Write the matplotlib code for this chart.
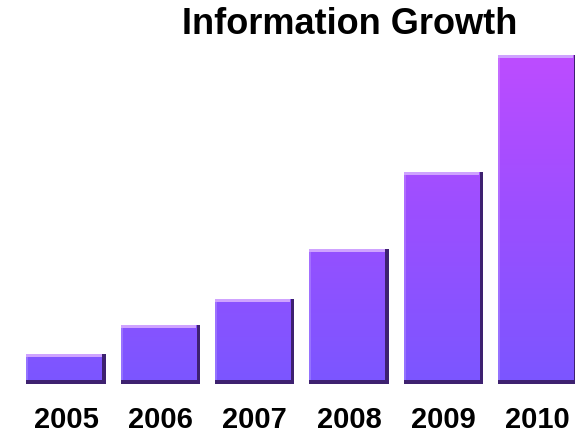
import matplotlib
matplotlib.use("Agg")
import matplotlib.pyplot as plt
import numpy as np
from matplotlib.colors import LinearSegmentedColormap

years = ["2005", "2006", "2007", "2008", "2009", "2010"]
values = [30, 59, 85, 135, 212, 329]

fig = plt.figure(figsize=(5.75, 4.34), dpi=100)
ax = fig.add_axes([0, 50/434, 1, 384/434])
xl = (-66/94.3, (575-66)/94.3)
ax.set_xlim(*xl)
ax.set_ylim(0, 384)
ax.axis("off")

x = np.arange(len(years))
width = 0.84
sx = 4/94.3   # shadow thickness in x data units
sy = 4        # shadow thickness in y data units

cmap = LinearSegmentedColormap.from_list("g", ["#7b56ff", "#9a4fff", "#bd4cff"])
grad = np.linspace(0, 1, 256).reshape(-1, 1)
top = max(values)

# shadow bars
ax.bar(x, values, width=width, color="#3e2170", edgecolor="none", zorder=1)
# front bars
fronts = ax.bar(x - sx/2, [v - sy for v in values], width=width - sx, bottom=sy,
                color="none", edgecolor="none", zorder=2)
for rect, v in zip(fronts, values):
    im = ax.imshow(grad, extent=[-1, 6, 0, top], origin="lower", cmap=cmap,
                   aspect="auto", zorder=2)
    im.set_clip_path(rect)
# top highlight
ax.bar(x - sx/2, [3]*len(values), width=width - sx, bottom=[v - 3 for v in values],
       color="#cfa3ff", edgecolor="none", zorder=3)
# left light edge
ax.bar(x - width/2 + 1/94, [v - sy - 3 for v in values], width=2/94, bottom=sy,
       color="white", alpha=0.18, edgecolor="none", zorder=3)

ax.set_xlim(*xl)
ax.set_ylim(0, 384)

for xi, lab in zip(x, years):
    ax.text(xi, -36, lab, ha="center", va="center", fontsize=21,
            fontweight="bold", family="Liberation Sans", color="black")

fig.text(350/575, 1 - 25/434, "Information Growth", ha="center", va="center",
         fontsize=26, fontweight="bold", family="Liberation Sans")

fig.savefig("out.png", dpi=100)
